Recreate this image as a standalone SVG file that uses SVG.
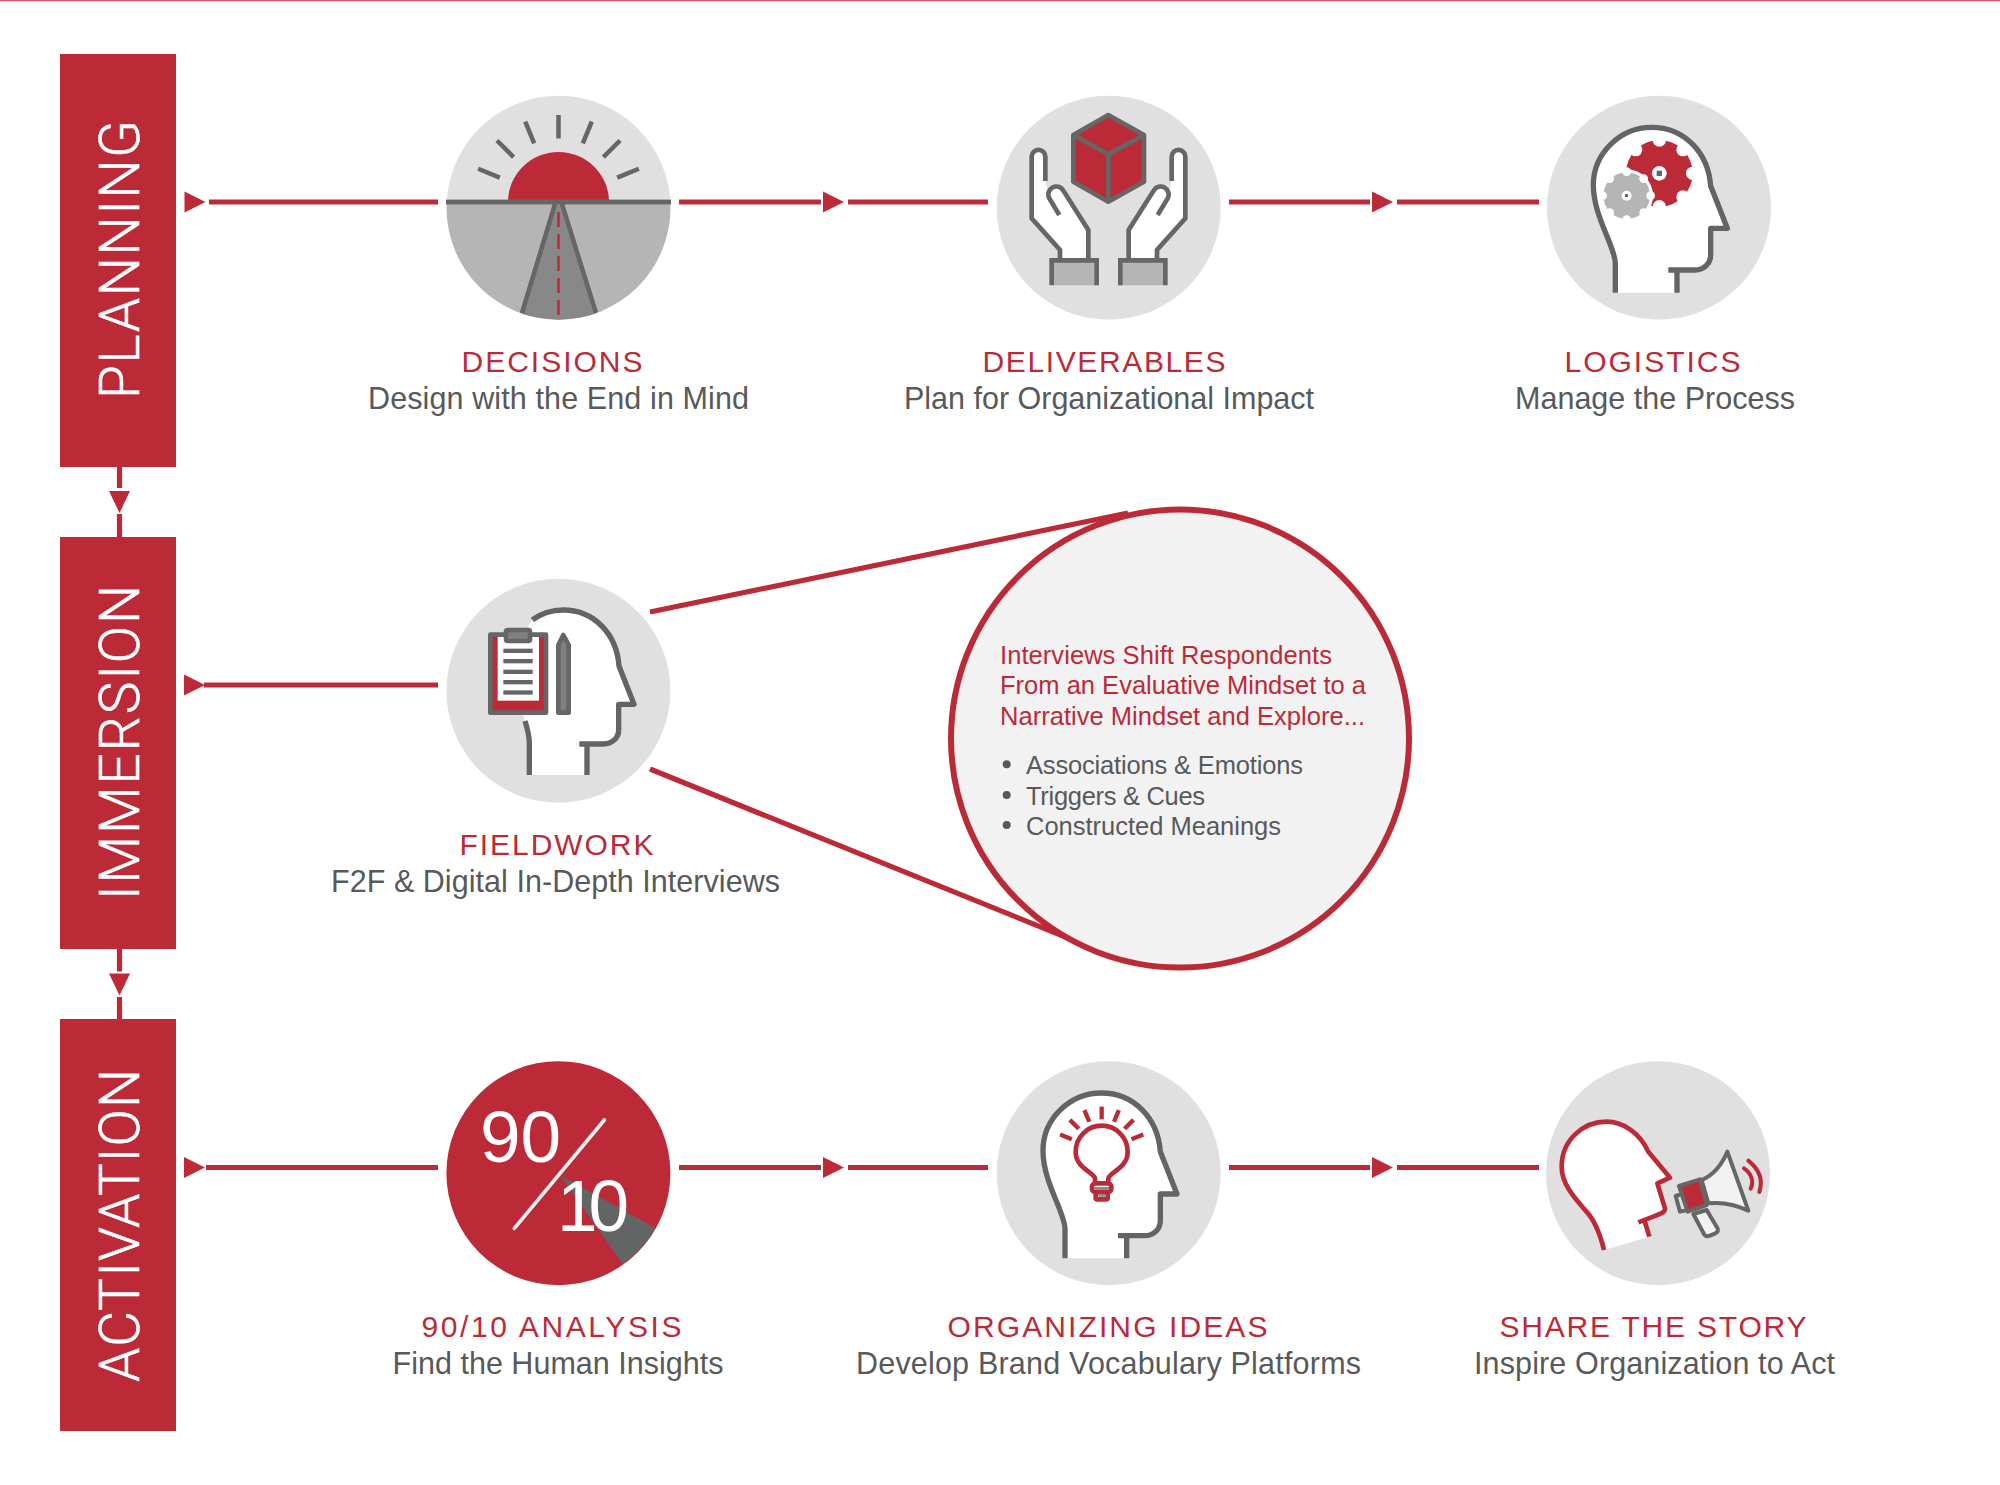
<svg xmlns="http://www.w3.org/2000/svg" xmlns:xlink="http://www.w3.org/1999/xlink" width="2000" height="1485" viewBox="0 0 2000 1485">
<style>
text{font-family:"Liberation Sans",Arial,sans-serif}
.bar{fill:#bc2a37}
.phase{fill:#fff;stroke:#fff;stroke-width:.6px;font-size:55px;font-family:Roboto,"Liberation Sans",sans-serif;font-weight:300}
.ttl{fill:#bc2a37;font-size:30px}
.sub{fill:#58595b;font-size:30.5px}
.cr{fill:#bc2a37;font-size:25.5px}
.cg{fill:#58595b;font-size:25.5px}
.disc{fill:#e0e0e0}
.conn{stroke:#bc2a37;stroke-width:5.2;fill:none}
.tri{fill:#bc2a37}
.g{stroke:#666;stroke-width:14;fill:none}
.gj{stroke:#666;stroke-width:14;stroke-linejoin:round}
.gm{stroke:#666;stroke-width:12;stroke-linejoin:round}
.hs{stroke:#636565;stroke-width:16;fill:none;stroke-linejoin:round}
.r{stroke:#bc2a37;stroke-width:14;fill:none}
.wf{fill:#fff}
.rf{fill:#bc2a37}
.wave{stroke:#bc2a37;stroke-width:12;fill:none;stroke-linecap:round}
</style>
<defs>
<clipPath id="c1"><circle cx="558.5" cy="207.7" r="112"/></clipPath>
<polygon id="ah" points="0,-10.5 21,0 0,10.5"/>
<polygon id="av" points="-10.5,0 10.5,0 0,22"/>
<g id="head">
<path class="wf" d="M826 698V610C826 560 760 470 760 375C760 280 840 202 935 202C1035 202 1105 280 1112 378L1162 505H1112V585C1112 610 1092 630 1065 630H1011V698Z"/>
<path class="hs" d="M826 698V610C826 560 760 470 760 375C760 280 840 202 935 202C1035 202 1105 280 1112 378L1162 505H1112V585C1112 610 1092 630 1065 630H985M1011 630V698"/>
</g>
<g id="hand">
<path class="wf" d="M736 290A20.5 20.5 0 0 0 695 290V475L780 570V600H865V510L790 392A23 23 0 0 0 748 415L736 363Z"/>
<path class="g" d="M736 363V290A20.5 20.5 0 0 0 695 290V475L780 570V600M865 600V510L790 392A23 23 0 0 0 748 415L778 465"/>
<path d="M755 676V601H890V676Z" fill="#b5b5b6" stroke="none"/>
<path class="g" d="M755 676V601H890V676"/>
</g>
</defs>
<rect x="0" y="0" width="2000" height="1.2" fill="#d65a68"/>

<g id="connectors">
<path class="conn" d="M209 202H438M679 202H821M848 202H988M1229 202H1370M1397 202H1539"/>
<path class="conn" d="M204 685H438"/>
<path class="conn" d="M206 1167.5H438M679 1167.5H821M848 1167.5H988M1229 1167.5H1370M1397 1167.5H1539"/>
<path class="conn" d="M119.5 467V488M119.5 514V537M119.5 949V971.5M119.5 997V1019"/>
<path class="conn" d="M650 612L1128 513M650 769L1078 942"/>
<g class="tri">
<use xlink:href="#ah" href="#ah" x="184.5" y="202"/><use xlink:href="#ah" href="#ah" x="823" y="202"/><use xlink:href="#ah" href="#ah" x="1372" y="202"/>
<use xlink:href="#ah" href="#ah" x="184" y="685"/>
<use xlink:href="#ah" href="#ah" x="184" y="1167.5"/><use xlink:href="#ah" href="#ah" x="823" y="1167.5"/><use xlink:href="#ah" href="#ah" x="1372" y="1167.5"/>
<use xlink:href="#av" href="#av" x="119.5" y="491"/><use xlink:href="#av" href="#av" x="119.5" y="973.5"/>
</g>
</g>

<g id="planning"><rect class="bar" x="60" y="54" width="116" height="413"/><text class="phase" transform="translate(138.5 399) rotate(-90)" textLength="279">PLANNING</text></g>
<g id="immersion"><rect class="bar" x="60" y="537" width="116" height="412"/><text class="phase" transform="translate(138.5 900) rotate(-90)" textLength="315">IMMERSION</text></g>
<g id="activation"><rect class="bar" x="60" y="1019" width="116" height="412"/><text class="phase" transform="translate(138.5 1382) rotate(-90)" textLength="313">ACTIVATION</text></g>

<g id="decisions">
<g clip-path="url(#c1)">
<rect x="446" y="95" width="225" height="107" fill="#e0e0e0"/>
<rect x="446" y="202" width="225" height="118" fill="#b5b5b6"/>
<path d="M553 204H564L597 313V322H520V313Z" fill="#888"/>
<path d="M555 204L522 313M562 204L596 313" stroke="#666" stroke-width="4.5" fill="none"/>
<path d="M558.5 212V320" stroke="#bc2a37" stroke-width="2.5" stroke-dasharray="15 7" fill="none"/>
</g>
<path class="rf" d="M508 202A50.5 50 0 0 1 609 202Z"/>
<rect x="446" y="199.6" width="225" height="4.8" fill="#666"/>
<g stroke="#666" stroke-width="4.5">
<path d="M558.5 138.5V115"/>
<path d="M558.5 138.5V115" transform="rotate(-22.5 558.5 202)"/>
<path d="M558.5 138.5V115" transform="rotate(22.5 558.5 202)"/>
<path d="M558.5 138.5V115" transform="rotate(-45 558.5 202)"/>
<path d="M558.5 138.5V115" transform="rotate(45 558.5 202)"/>
<path d="M558.5 138.5V115" transform="rotate(-67.5 558.5 202)"/>
<path d="M558.5 138.5V115" transform="rotate(67.5 558.5 202)"/>
</g>
<text class="ttl" x="461.5" y="372" textLength="181">DECISIONS</text>
<text class="sub" x="368" y="408.5" textLength="381">Design with the End in Mind</text>
</g>

<g id="deliverables">
<circle class="disc" cx="1108.7" cy="207.7" r="112"/>
<g transform="translate(800 60) scale(.33333)">
<path d="M925 165L1032 225V365L925 425L820 365V225Z" class="rf"/>
<path class="g" stroke-linejoin="round" d="M925 165L1032 225V365L925 425L820 365V225ZM820 225L925 283L1032 225M925 283V425"/>
<use xlink:href="#hand" href="#hand"/>
<use xlink:href="#hand" href="#hand" transform="translate(1851 0) scale(-1 1)"/>
</g>
<text class="ttl" x="982.5" y="372" textLength="243">DELIVERABLES</text>
<text class="sub" x="904" y="408.5" textLength="410">Plan for Organizational Impact</text>
</g>

<g id="logistics">
<circle class="disc" cx="1659" cy="207.7" r="112"/>
<g transform="translate(1340 60) scale(.33333)">
<use xlink:href="#head" href="#head"/>
<circle class="rf" cx="958" cy="340" r="100"/>
<g class="wf">
<circle cx="958" cy="240" r="20"/><circle cx="1029" cy="269" r="20"/><circle cx="1058" cy="340" r="20"/><circle cx="1029" cy="411" r="20"/><circle cx="958" cy="440" r="20"/><circle cx="887" cy="269" r="20"/>
<circle cx="958" cy="340" r="22"/>
<circle cx="860" cy="407" r="79"/>
</g>
<rect x="950" y="332" width="16" height="16" fill="#666"/>
<circle cx="860" cy="407" r="70" fill="#b5b5b6"/>
<g class="wf">
<circle cx="860" cy="335" r="13"/><circle cx="911" cy="356" r="13"/><circle cx="932" cy="407" r="13"/><circle cx="911" cy="458" r="13"/><circle cx="860" cy="479" r="13"/><circle cx="809" cy="458" r="13"/><circle cx="788" cy="407" r="13"/><circle cx="809" cy="356" r="13"/>
<circle cx="860" cy="407" r="15"/>
</g>
<rect x="855" y="402" width="9" height="9" fill="#666"/>
</g>
<text class="ttl" x="1564.5" y="372" textLength="176">LOGISTICS</text>
<text class="sub" x="1515" y="408.5" textLength="280">Manage the Process</text>
</g>

<g id="fieldwork">
<circle class="disc" cx="558.4" cy="690.7" r="112"/>
<g transform="translate(420 560) scale(.33333)">
<path class="wf" d="M328 645V550C328 530 322 505 315 483L260 300L337 180C370 155 410 150 430 150C520 150 590 220 597 318L642 433H596V510C596 535 575 552 550 552H501V645Z"/>
<path class="hs" d="M328 645V550C328 530 322 505 315 483M337 180C370 155 410 150 430 150C520 150 590 220 597 318L642 433H596V510C596 535 575 552 550 552H478M501 552V645"/>
<rect x="211" y="224" width="167" height="234" class="rf"/>
<rect x="233" y="228" width="124" height="194" class="wf"/>
<rect x="211" y="224" width="167" height="234" class="g" stroke-linejoin="round"/>
<rect x="258" y="210" width="72" height="33" rx="5" fill="#808080" class="gj"/>
<g fill="#666"><rect x="250" y="266" width="88" height="13"/><rect x="250" y="297" width="88" height="13"/><rect x="250" y="329" width="88" height="13"/><rect x="250" y="360" width="88" height="13"/><rect x="250" y="391" width="88" height="13"/></g>
<path d="M415 255L430 225L446 255V458H415Z" fill="#808080" class="gj"/>
</g>
<text class="ttl" x="459.5" y="855" textLength="194">FIELDWORK</text>
<text class="sub" x="331" y="891.5" textLength="449">F2F &amp; Digital In-Depth Interviews</text>
</g>

<g id="callout">
<circle cx="1180" cy="738.5" r="229" fill="#f2f2f2" stroke="#bc2a37" stroke-width="6"/>
<text class="cr" x="1000" y="663.5" textLength="332">Interviews Shift Respondents</text>
<text class="cr" x="1000" y="694" textLength="366">From an Evaluative Mindset to a</text>
<text class="cr" x="1000" y="725" textLength="365">Narrative Mindset and Explore...</text>
<g fill="#58595b"><circle cx="1006.7" cy="764.3" r="4"/><circle cx="1006.7" cy="795" r="4"/><circle cx="1006.7" cy="825" r="4"/></g>
<text class="cg" x="1026" y="773.5" textLength="277">Associations &amp; Emotions</text>
<text class="cg" x="1026" y="804.5" textLength="179">Triggers &amp; Cues</text>
<text class="cg" x="1026" y="834.5" textLength="255">Constructed Meanings</text>
</g>

<g id="analysis">
<circle class="rf" cx="558.4" cy="1173.2" r="112"/>
<g transform="translate(420 1040) scale(.33333)">
<path d="M420 405L707 565A335 335 0 0 1 608 672Z" fill="#636565"/>
<path d="M283 565L553 240" stroke="#eee" stroke-width="11" stroke-linecap="round"/>
</g>
<text x="480" y="1161.5" fill="#fff" font-size="73">90</text>
<text x="557" y="1231" fill="#fff" font-size="73" textLength="72">10</text>
<text class="ttl" x="421.5" y="1337" textLength="260">90/10 ANALYSIS</text>
<text class="sub" x="392.5" y="1373.5" textLength="331">Find the Human Insights</text>
</g>

<g id="organizing">
<circle class="disc" cx="1108.7" cy="1173.2" r="112"/>
<g transform="translate(980 1040) scale(.33333)">
<use xlink:href="#head" href="#head" transform="translate(-571 -43)"/>
<path class="r" stroke-linejoin="round" d="M345 425V415C340 395 287 385 287 335A78 78 0 1 1 443 335C443 385 390 395 385 415V425"/>
<rect x="336" y="430" width="58" height="26" rx="10" class="r" fill="none"/>
<rect x="347" y="456" width="36" height="22" rx="5" class="r"/>
<path d="M343 445H387M355 466H375" stroke="#888" stroke-width="8"/>
<g stroke="#bc2a37" stroke-width="13">
<path d="M365 238V200"/>
<path d="M365 238V200" transform="rotate(-22.5 365 335)"/>
<path d="M365 238V200" transform="rotate(22.5 365 335)"/>
<path d="M365 238V200" transform="rotate(-45 365 335)"/>
<path d="M365 238V200" transform="rotate(45 365 335)"/>
<path d="M365 238V200" transform="rotate(-67.5 365 335)"/>
<path d="M365 238V200" transform="rotate(67.5 365 335)"/>
</g>
</g>
<text class="ttl" x="947.5" y="1337" textLength="320">ORGANIZING IDEAS</text>
<text class="sub" x="856" y="1373.5" textLength="505">Develop Brand Vocabulary Platforms</text>
</g>

<g id="share">
<circle class="disc" cx="1658" cy="1173.2" r="112"/>
<g transform="translate(1530 1040) scale(.33333)">
<path class="wf" d="M222 630C210 580 190 535 165 510C130 470 95 430 95 380C95 300 160 245 230 245C280 245 330 280 355 335L420 413L382 430L405 505C405 520 395 520 345 540L358 590Z"/>
<path class="r" stroke-linejoin="round" d="M222 630C210 580 190 535 165 510C130 470 95 430 95 380C95 300 160 245 230 245C280 245 330 280 355 335L420 413L382 430L405 505C405 520 395 520 325 547M343 540L358 590"/>
<path d="M490 522L522 582Q528 592 540 587L556 580Q568 574 562 564L530 510Z" fill="#f2f2f2" class="gm"/>
<path d="M437 468L462 460L473 510L450 515Z" fill="#e0e0e0" class="gm"/>
<path d="M515 420C550 405 575 375 592 335L655 512C620 495 580 485 535 490Z" fill="#f2f2f2" class="gm"/>
<path d="M447 438L510 418L530 495L473 515Z" class="rf"/>
<path d="M447 438L510 418L530 495L473 515Z" class="gm" fill="none"/>
<path class="wave" d="M655 362C690 390 700 420 688 456M642 385C665 400 672 425 662 446"/>
</g>
<text class="ttl" x="1499.5" y="1337" textLength="307">SHARE THE STORY</text>
<text class="sub" x="1474" y="1373.5" textLength="361">Inspire Organization to Act</text>
</g>
</svg>
